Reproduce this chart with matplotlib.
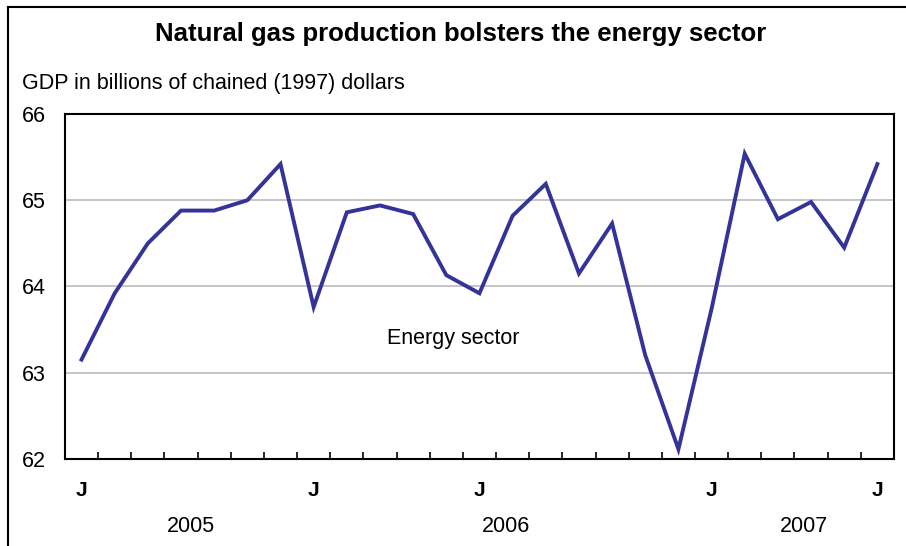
import matplotlib
matplotlib.use("Agg")
import matplotlib.pyplot as plt
from matplotlib.lines import Line2D
import matplotlib.transforms as mtransforms

plt.rcParams['font.family'] = ['Liberation Sans', 'DejaVu Sans']

# monthly energy sector GDP, Jun 2005 - Jun 2007
months = ["Jun 2005", "Jul 2005", "Aug 2005", "Sep 2005", "Oct 2005", "Nov 2005", "Dec 2005",
          "Jan 2006", "Feb 2006", "Mar 2006", "Apr 2006", "May 2006", "Jun 2006",
          "Jul 2006", "Aug 2006", "Sep 2006", "Oct 2006", "Nov 2006", "Dec 2006",
          "Jan 2007", "Feb 2007", "Mar 2007", "Apr 2007", "May 2007", "Jun 2007"]
energy = [63.15, 63.92, 64.50, 64.88, 64.88, 65.00, 65.42,
          63.76, 64.86, 64.94, 64.84, 64.13, 63.92,
          64.82, 65.19, 64.15, 64.73, 63.20, 62.11,
          63.74, 65.54, 64.78, 64.98, 64.45, 65.42]
j_positions = [0, 7, 12, 19, 24]
years = ["2005", "2006", "2007"]
year_spans = [(0, 6), (7, 18), (19, 24)]
yticks = [62, 63, 64, 65, 66]

fig = plt.figure(figsize=(9.06, 5.46), dpi=100)
ax = fig.add_axes([0.0717, 0.160, 0.915, 0.631])

x = list(range(len(months)))
ax.plot(x, energy, color='#333399', lw=2.8, solid_joinstyle='miter', zorder=3)

ax.set_xlim(-0.5, len(months) - 0.5)
ax.set_ylim(62, 66)
ax.set_yticks(yticks)
for v in yticks[1:-1]:
    ax.axhline(v, color='#c0c0c0', lw=1.3, zorder=1)

ax.set_xticks([i + 0.5 for i in range(len(months) - 1)])
ax.set_xticklabels([])
ax.tick_params(axis='x', direction='in', length=5, width=1.2, color='black')
ax.tick_params(axis='y', length=0, pad=14, labelsize=15.5)
for s in ax.spines.values():
    s.set_linewidth(1.5)
    s.set_color('black')

trans = mtransforms.blended_transform_factory(ax.transData, fig.transFigure)
for p in j_positions:
    fig.text(p, 1 - 491 / 546, "J", transform=trans, ha='center', va='center',
             fontsize=15, fontweight='bold')
for yr, (a, b) in zip(years, year_spans):
    fig.text((a + b) / 2 + 0.3, 1 - 527 / 546, yr, transform=trans, ha='center',
             va='center', fontsize=15.5)

ax.text(11.2, 63.4, "Energy sector", ha='center', va='center', fontsize=15.5)

fig.text(0.508, 1 - 34 / 546, "Natural gas production bolsters the energy sector",
         ha='center', va='center', fontsize=18.5, fontweight='bold')
fig.text(22 / 906, 1 - 83 / 546, "GDP in billions of chained (1997) dollars",
         ha='left', va='center', fontsize=15.5)

# frame lines on left and top of the figure
fig.add_artist(Line2D([8 / 906, 8 / 906], [0, 1 - 7 / 546], color='black', lw=1.5,
                      transform=fig.transFigure))
fig.add_artist(Line2D([8 / 906, 1], [1 - 7 / 546, 1 - 7 / 546], color='black', lw=1.5,
                      transform=fig.transFigure))

fig.savefig("out.png", dpi=100)
